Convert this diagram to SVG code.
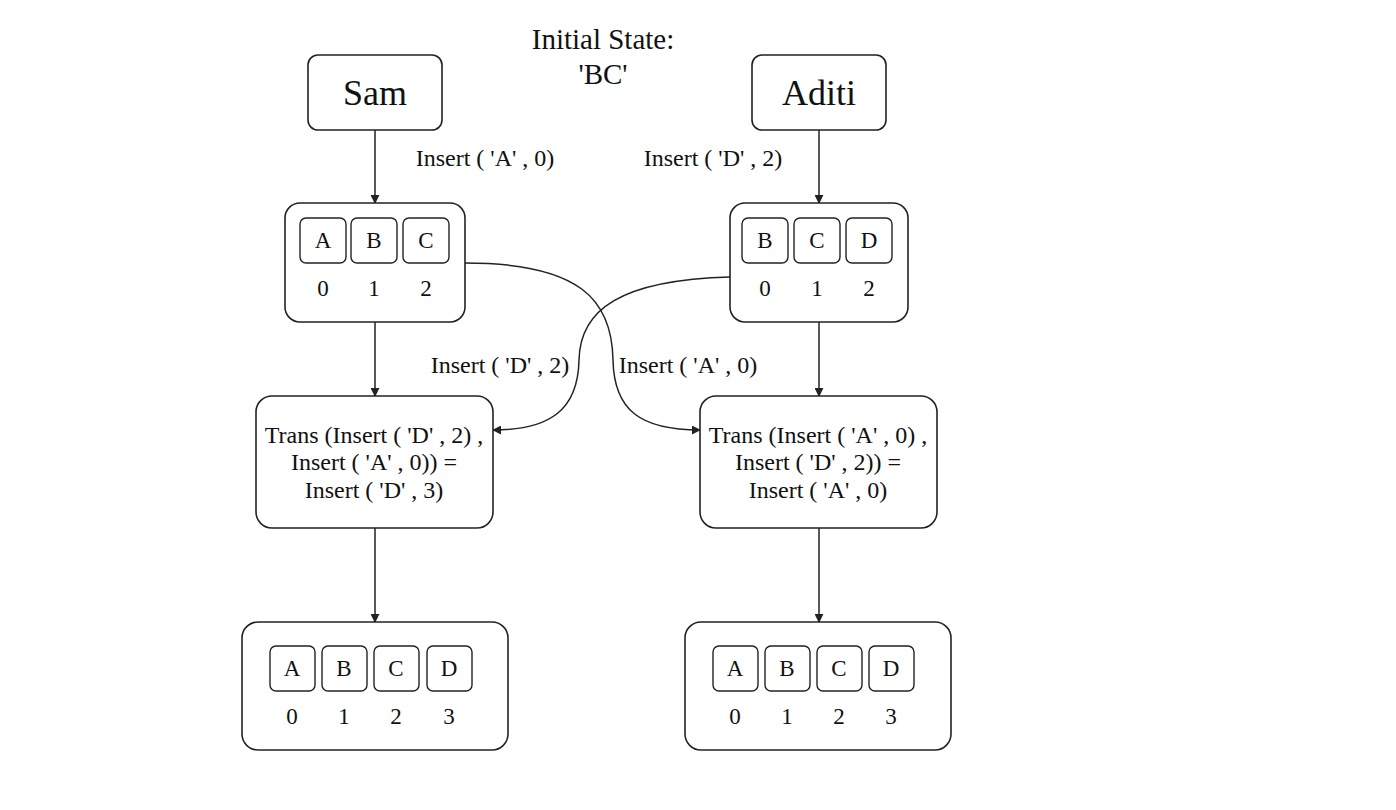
<svg xmlns="http://www.w3.org/2000/svg" width="1396" height="810" viewBox="0 0 1396 810">
<defs>
<style>
text{font-family:"Liberation Serif","Times New Roman",serif;fill:#111;text-anchor:middle;dominant-baseline:central}
.box{fill:#fff;stroke:#222;stroke-width:1.6}
.cell{fill:#fff;stroke:#222;stroke-width:1.4}
.lbl{font-size:24px}
.big{font-size:36px}
.ch{font-size:23px}
.ttl{font-size:29px}
.cn{fill:none;stroke:#222;stroke-width:1.5}
</style>
<marker id="ah" viewBox="0 0 10 10" refX="9" refY="5" markerWidth="9" markerHeight="9" markerUnits="userSpaceOnUse" orient="auto"><path d="M0,0 L10,5 L0,10 Z" fill="#222"/></marker>
</defs>
<rect width="1396" height="810" fill="#fff"/>
<g id="title"><text class="ttl" x="603" y="39">Initial State:</text><text class="ttl" x="603" y="74">'BC'</text></g>
<g id="connectors">
<path class="cn" d="M375,130 L375,203" marker-end="url(#ah)"/>
<path class="cn" d="M819,130 L819,203" marker-end="url(#ah)"/>
<path class="cn" d="M375,322 L375,396" marker-end="url(#ah)"/>
<path class="cn" d="M819,322 L819,396" marker-end="url(#ah)"/>
<path class="cn" d="M375,528 L375,622" marker-end="url(#ah)"/>
<path class="cn" d="M819,528 L819,622" marker-end="url(#ah)"/>
<path class="cn" d="M465,263 C580,263 612,300 613,360 C614,410 640,430 700,430" marker-end="url(#ah)"/>
<path class="cn" d="M730,277 C620,280 580,310 579,360 C578,410 550,430 493,430" marker-end="url(#ah)"/>
<text class="lbl" x="485" y="158">Insert ( 'A' , 0)</text>
<text class="lbl" x="713" y="158">Insert ( 'D' , 2)</text>
<text class="lbl" x="500" y="365">Insert ( 'D' , 2)</text>
<text class="lbl" x="688" y="365">Insert ( 'A' , 0)</text>
</g>
<g id="sam"><rect class="box" x="308" y="55" width="134" height="75" rx="10"/><text class="big" x="375" y="93">Sam</text></g>
<g id="aditi"><rect class="box" x="752" y="55" width="134" height="75" rx="10"/><text class="big" x="819" y="93">Aditi</text></g>
<g id="sam-state">
<rect class="box" x="285" y="203" width="180" height="119" rx="15"/>
<rect class="cell" x="300" y="218" width="46" height="45" rx="6"/><text class="ch" x="323" y="240">A</text>
<rect class="cell" x="351" y="218" width="46" height="45" rx="6"/><text class="ch" x="374" y="240">B</text>
<rect class="cell" x="403" y="218" width="46" height="45" rx="6"/><text class="ch" x="426" y="240">C</text>
<text class="ch" x="323" y="288">0</text><text class="ch" x="374" y="288">1</text><text class="ch" x="426" y="288">2</text>
</g>
<g id="aditi-state">
<rect class="box" x="730" y="203" width="178" height="119" rx="15"/>
<rect class="cell" x="742" y="218" width="46" height="45" rx="6"/><text class="ch" x="765" y="240">B</text>
<rect class="cell" x="794" y="218" width="46" height="45" rx="6"/><text class="ch" x="817" y="240">C</text>
<rect class="cell" x="846" y="218" width="46" height="45" rx="6"/><text class="ch" x="869" y="240">D</text>
<text class="ch" x="765" y="288">0</text><text class="ch" x="817" y="288">1</text><text class="ch" x="869" y="288">2</text>
</g>
<g id="sam-trans">
<rect class="box" x="256" y="396" width="237" height="132" rx="16"/>
<text class="lbl" x="374" y="435">Trans (Insert ( 'D' , 2) ,</text>
<text class="lbl" x="374" y="462">Insert ( 'A' , 0)) =</text>
<text class="lbl" x="374" y="490">Insert ( 'D' , 3)</text>
</g>
<g id="aditi-trans">
<rect class="box" x="700" y="396" width="237" height="132" rx="16"/>
<text class="lbl" x="818" y="435">Trans (Insert ( 'A' , 0) ,</text>
<text class="lbl" x="818" y="462">Insert ( 'D' , 2)) =</text>
<text class="lbl" x="818" y="490">Insert ( 'A' , 0)</text>
</g>
<g id="sam-final">
<rect class="box" x="242" y="622" width="266" height="128" rx="16"/>
<rect class="cell" x="270" y="646" width="45" height="45" rx="6"/><text class="ch" x="292" y="668">A</text>
<rect class="cell" x="322" y="646" width="45" height="45" rx="6"/><text class="ch" x="344" y="668">B</text>
<rect class="cell" x="374" y="646" width="45" height="45" rx="6"/><text class="ch" x="396" y="668">C</text>
<rect class="cell" x="427" y="646" width="45" height="45" rx="6"/><text class="ch" x="449" y="668">D</text>
<text class="ch" x="292" y="716">0</text><text class="ch" x="344" y="716">1</text><text class="ch" x="396" y="716">2</text><text class="ch" x="449" y="716">3</text>
</g>
<g id="aditi-final">
<rect class="box" x="685" y="622" width="266" height="128" rx="16"/>
<rect class="cell" x="713" y="646" width="45" height="45" rx="6"/><text class="ch" x="735" y="668">A</text>
<rect class="cell" x="765" y="646" width="45" height="45" rx="6"/><text class="ch" x="787" y="668">B</text>
<rect class="cell" x="817" y="646" width="45" height="45" rx="6"/><text class="ch" x="839" y="668">C</text>
<rect class="cell" x="869" y="646" width="45" height="45" rx="6"/><text class="ch" x="891" y="668">D</text>
<text class="ch" x="735" y="716">0</text><text class="ch" x="787" y="716">1</text><text class="ch" x="839" y="716">2</text><text class="ch" x="891" y="716">3</text>
</g>
</svg>
